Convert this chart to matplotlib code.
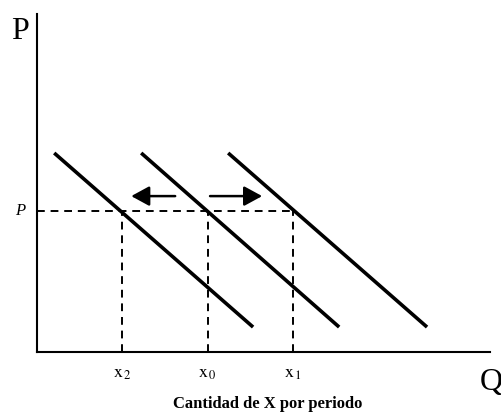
import matplotlib
matplotlib.use("Agg")
import matplotlib.pyplot as plt

plt.rcParams["font.family"] = ["Liberation Serif", "DejaVu Serif"]
plt.rcParams["mathtext.fontset"] = "stix"

# Three parallel demand curves (Q, P endpoints): shifted left, original, shifted right
demand_q = [[0.38, 4.77], [2.30, 6.67], [4.22, 8.61]]
demand_p = [[4.71, 0.59], [4.71, 0.59], [4.71, 0.59]]

price = 3.34                     # the fixed price P
quantities = [1.88, 3.77, 5.65]  # x2, x0, x1 at that price
q_labels = [r"$\mathrm{x}_{\,2}$", r"$\mathrm{x}_{\,0}$", r"$\mathrm{x}_{\,1}$"]

# shift arrows (start, tip) at the same height
arrow_p = 3.69
arrows = [(3.05, 2.08), (3.82, 4.97)]

fig = plt.figure(figsize=(5.02, 4.12), dpi=100)
ax = fig.add_axes([37 / 502, 60 / 412, 453 / 502, 338 / 412])
ax.set_xlim(0, 10)
ax.set_ylim(0, 8)
for side in ["top", "right"]:
    ax.spines[side].set_visible(False)
for side in ["left", "bottom"]:
    ax.spines[side].set_linewidth(1.5)
ax.set_xticks([])
ax.set_yticks([])

for qs, ps in zip(demand_q, demand_p):
    ax.plot(qs, ps, color="black", lw=2.6, solid_capstyle="butt")

ax.plot([0, max(quantities)], [price, price], color="black", lw=1.4,
        ls=(0, (4, 3)))
for q, lab in zip(quantities, q_labels):
    ax.plot([q, q], [0, price], color="black", lw=1.4, ls=(0, (4, 3)))
    ax.text(q, -0.52, lab, ha="center", va="center", fontsize=13,
            clip_on=False)

for start, tip in arrows:
    ax.annotate("", xy=(tip, arrow_p), xytext=(start, arrow_p),
                arrowprops=dict(arrowstyle="-|>,head_length=1.1,head_width=0.6",
                                color="black", lw=1.8, shrinkA=0, shrinkB=0))

ax.text(-0.38, 7.58, "P", ha="center", va="center", fontsize=23, clip_on=False)
ax.text(-0.38, price, "P", ha="center", va="center", fontsize=12,
        style="italic", clip_on=False)
ax.text(10.02, -0.73, "Q", ha="center", va="center", fontsize=23,
        clip_on=False)
ax.text(5.1, -1.23, "Cantidad de X por periodo", ha="center", va="center",
        fontsize=12, fontweight="bold", clip_on=False)

fig.savefig("out.png", dpi=100)
